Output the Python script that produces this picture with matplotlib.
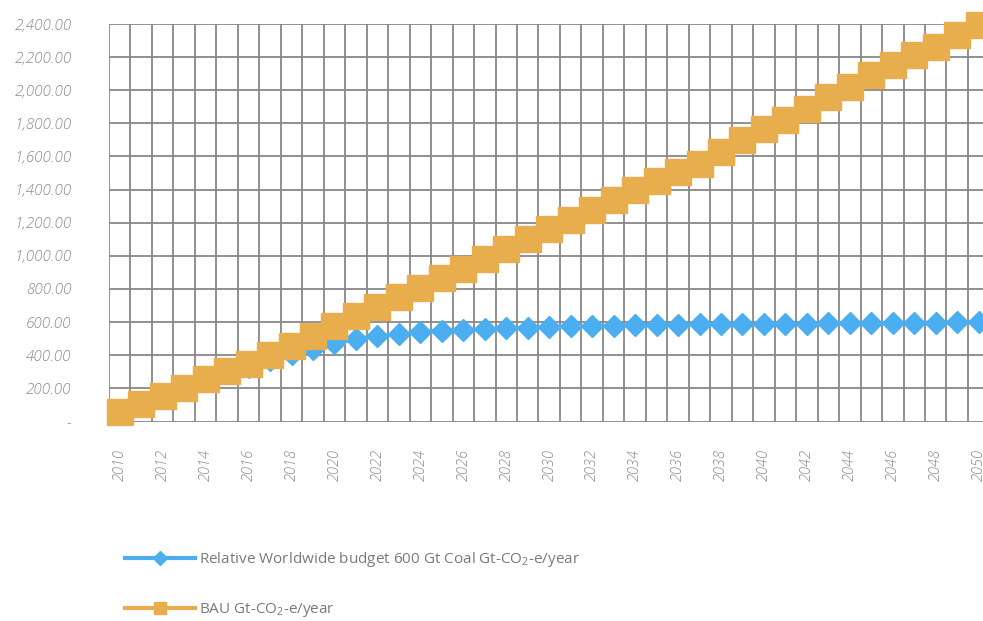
#!/usr/bin/env python3
"""Coal budget vs business-as-usual emissions, 2010-2050."""
import matplotlib
matplotlib.use('Agg')
import matplotlib.pyplot as plt
from matplotlib.lines import Line2D
from matplotlib.ticker import FuncFormatter

YEARS = list(range(2010, 2051))

BUDGET_600 = [
    50, 100, 150, 195, 245, 290, 327, 370, 408, 440,
    472, 500, 515, 527, 538, 548, 553, 556, 562, 565,
    572, 574, 576, 578, 580, 583, 585, 586, 587, 588,
    589, 590, 591, 592, 593, 594, 595, 596, 597, 598,
    600,
]
BAU = [
    57, 106, 156, 200, 254, 306, 350, 402, 457, 518,
    578, 636, 693, 750, 807, 864, 922, 980, 1040, 1100,
    1160, 1218, 1276, 1336, 1396, 1455, 1506, 1556, 1627, 1697,
    1767, 1818, 1888, 1959, 2020, 2090, 2150, 2210, 2261, 2331,
    2391,
]

LABEL_BUDGET = 'Relative Worldwide budget 600 Gt Coal Gt-CO$_2$-e/year'
LABEL_BAU = 'BAU Gt-CO$_2$-e/year'

BLUE = '#4aaef0'
ORANGE = '#e8ae4e'
GRID = '#888888'
TEXT = '#8a8a8a'

plt.rcParams['font.family'] = ['Open Sans', 'DejaVu Sans']
plt.rcParams['mathtext.default'] = 'regular'


def _money(v, _pos):
    if abs(v) < 1e-9:
        return '-'
    return f'{v:,.2f}'


def main():
    fig = plt.figure(figsize=(9.83, 6.21), dpi=100)
    ax = fig.add_axes([109 / 983, 199.5 / 621, 874 / 983, 397.5 / 621])

    idx = list(range(len(YEARS)))
    ax.plot(idx, BUDGET_600, color=BLUE, lw=3, marker='D', ms=11,
            mec=BLUE, mfc=BLUE, clip_on=False, zorder=3)
    ax.plot(idx, BAU, color=ORANGE, lw=3, marker='s', ms=18.5,
            mec=ORANGE, mfc=ORANGE, clip_on=False, zorder=4)

    ax.set_xlim(-0.5, 40.2)
    ax.set_ylim(0, 2400)

    # category boundaries every year, values every 200
    for b in range(len(YEARS) + 1):
        ax.axvline(b - 0.5, color=GRID, lw=1.3, zorder=1)
    for v in range(0, 2401, 200):
        ax.axhline(v, color=GRID, lw=1.3, zorder=1)
    for s in ax.spines.values():
        s.set_visible(False)

    ax.set_xticks(idx[::2])
    ax.set_xticklabels([str(y) for y in YEARS[::2]], rotation=90,
                       fontsize=10.5, style='italic', color=TEXT,
                       fontweight='light')
    ax.set_yticks(range(0, 2401, 200))
    ax.yaxis.set_major_formatter(FuncFormatter(_money))
    for t in ax.get_yticklabels():
        t.set_fontsize(11)
        t.set_style('italic')
        t.set_color(TEXT)
        t.set_fontweight('light')
    ax.tick_params(axis='x', length=0, pad=20)
    ax.tick_params(axis='y', length=0, pad=27)

    handles = [
        Line2D([], [], color=BLUE, lw=3, marker='D', ms=7, mfc=BLUE, mec=BLUE),
        Line2D([], [], color=ORANGE, lw=3, marker='s', ms=9, mfc=ORANGE, mec=ORANGE),
    ]
    leg = fig.legend(handles, [LABEL_BUDGET, LABEL_BAU], loc='upper left',
                     bbox_to_anchor=(125 / 983, 1 - 550 / 621), frameon=False,
                     fontsize=11, handlelength=4.6, handletextpad=0.25,
                     labelspacing=2.1, borderpad=0, borderaxespad=0)
    for t in leg.get_texts():
        t.set_color('#7a7a7a')

    fig.savefig('out.png', dpi=100)
    plt.close(fig)


if __name__ == '__main__':
    main()
